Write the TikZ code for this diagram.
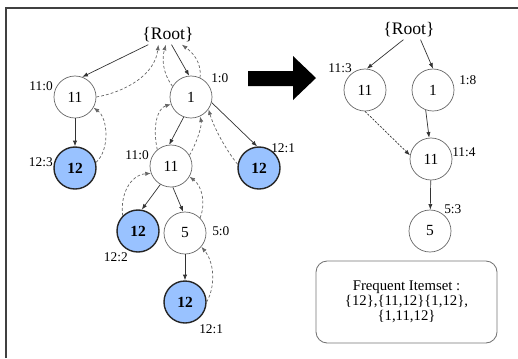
\documentclass[tikz,border=0pt]{standalone}
\usepackage{fontspec}
\setmainfont{Liberation Serif}
\usepackage{tikz}
\usetikzlibrary{arrows.meta}
\definecolor{ItemBlue}{RGB}{153,194,255}
\definecolor{FrameGray}{RGB}{64,64,64}

\begin{document}
\begin{tikzpicture}[x=0.025cm,y=-0.025cm,
	item/.style={circle,draw=black!60,line width=0.5pt,minimum size=1.05cm,inner sep=0pt,font=\fontsize{11}{13}\selectfont},
	freq/.style={item,draw=black!85,line width=1pt,fill=ItemBlue,font=\fontsize{11}{13}\selectfont\bfseries},
	rootnode/.style={inner sep=1.5pt,font=\fontsize{12.5}{14}\selectfont},
	cnt/.style={inner sep=0pt,font=\fontsize{9.5}{11}\selectfont},
	link/.style={-{Latex[length=4pt,width=3pt]},line width=0.5pt,black!80},
	back/.style={link,black!60,dash pattern=on 2pt off 1.5pt}]
		\useasboundingbox (0,0) rectangle (518,358);
		\draw[FrameGray,line width=1.2pt] (6,358)--(6,8)--(518,8);
		
		% tree with node-links
		\node[rootnode] (root) at (168,35) {\{Root\}};
		\node[item] (a11) at (75,97) {11};
		\node[freq] (a12) at (75,168) {12};
		\node[item] (b1) at (191,97) {1};
		\node[item] (b11) at (171,166) {11};
		\node[freq] (b12) at (259,168) {12};
		\node[freq] (c12) at (138,231) {12};
		\node[item] (c5) at (185,233) {5};
		\node[freq] (d12) at (185,302) {12};
		
		% counts
		\node[cnt,anchor=east] (a11c) at (53,86) {11:0};
		\node[cnt,anchor=east] (a12c) at (53,162) {12:3};
		\node[cnt,anchor=west] (b1c) at (211,78) {1:0};
		\node[cnt,anchor=east] (b11c) at (149,155) {11:0};
		\node[cnt,anchor=west] (b12c) at (271,148) {12:1};
		\node[cnt,anchor=east] (c12c) at (128,257) {12:2};
		\node[cnt,anchor=west] (c5c) at (212,231) {5:0};
		\node[cnt,anchor=west] (d12c) at (199,329) {12:1};
		
		% downward links and dashed way back
		\draw[link] (root)--(a11.70);
		\draw[back] (a11.0) .. controls (125,92) and (155,75) .. (root.225);
		\draw[link] (a11)--(a12);
		\draw[back] (a12.15) .. controls (110,150) and (108,118) .. (a11.-30);
		\draw[link] (root.290)--(b1.95);
		\draw[back] (b1.65) .. controls (202,62) and (192,52) .. (root.325);
		\draw[back] (b1.150) .. controls (162,72) and (162,58) .. (root.258);
		\draw[link] (b1.250)--(b11.95);
		\draw[back] (b11.130) .. controls (152,125) and (158,108) .. (b1.200);
		\draw[back] (b11.30) .. controls (198,140) and (202,125) .. (b1.-65);
		\draw[link] (b1.-15)--(b12.95);
		\draw[back] (b12.170) .. controls (226,150) and (214,128) .. (b1.-35);
		\draw[link] (b11.-120)--(c12.80);
		\draw[back] (c12.135) .. controls (120,195) and (130,175) .. (b11.200);
		\draw[link] (b11.-85)--(c5.95);
		\draw[back] (c5.45) .. controls (206,203) and (202,186) .. (b11.-30);
		\draw[link] (c5)--(d12);
		\draw[back] (d12.0) .. controls (216,285) and (214,262) .. (c5.-40);
		
		% big arrow
		\fill (248,71)--(293,71)--(293,56)--(316,78)--(293,100)--(293,86)--(248,86)--cycle;
		
		% conditional tree
		\node[rootnode] (root2) at (409,30) {\{Root\}};
		\node[item] (r11) at (365,90) {11};
		\node[item] (r1) at (433,90) {1};
		\node[item] (r11b) at (431,159) {11};
		\node[item] (r5) at (430,231) {5};
		\node[cnt,anchor=east] (r11c) at (352,68) {11:3};
		\node[cnt,anchor=west] (r1c) at (459,80) {1:8};
		\node[cnt,anchor=west] (r11bc) at (452,152) {11:4};
		\node[cnt,anchor=west] (r5c) at (444,209) {5:3};
		\draw[link] (root2.240)--(r11.85);
		\draw[link] (root2.320)--(r1.north);
		\draw[link] (r1.-110)--(r11b.95);
		\draw[link,dash pattern=on 1.5pt off 1pt] (r11.south)--(r11b.170);
		\draw[link] (r11b)--(r5);
		
		% result
		\node[draw=black!55,line width=0.6pt,rounded corners=8pt,minimum width=4.525cm,minimum height=2.05cm,align=center,font=\fontsize{10.5}{10.8}\selectfont] (freqbox) at (406.5,302) {Frequent Itemset :\\\{12\},\{11,12\}\{1,12\},\\\{1,11,12\}};
	\end{tikzpicture}
\end{document}
